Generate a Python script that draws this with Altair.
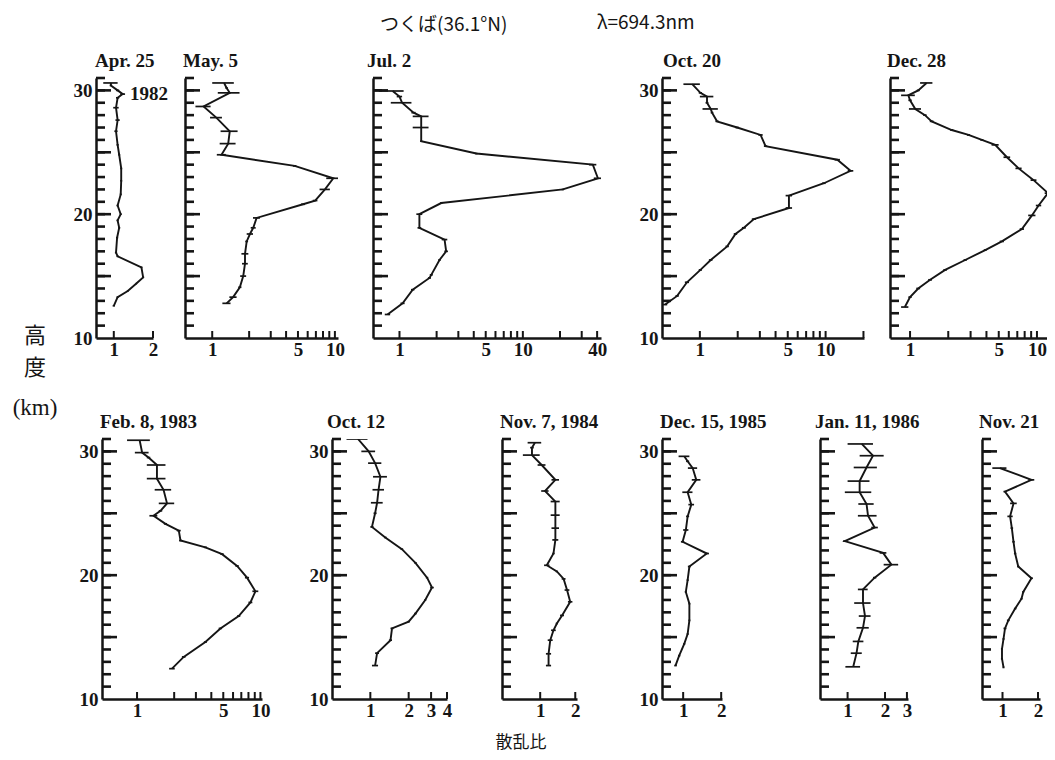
import altair as alt
import pandas as pd

# ---------------- data: altitude (km), scattering ratio, error half-width ----------------
apr25_km = [30.6, 30.4, 30.0, 29.7, 29.4, 28.6, 27.6, 26.7, 25.6, 24.8, 23.7, 22.7, 21.6,
            20.7, 20.0, 19.5, 18.9, 18.1, 16.9, 16.6, 15.7, 14.9, 14.4, 13.8, 13.3, 12.6]
apr25_sr = [0.95, 0.95, 1.07, 1.17, 1.07, 1.04, 1.07, 1.04, 1.07, 1.10, 1.14, 1.14, 1.13,
            1.07, 1.13, 1.07, 1.10, 1.06, 1.04, 1.07, 1.63, 1.68, 1.49, 1.28, 1.07, 1.00]
apr25_er = [0.12, 0.02, 0.03, 0.05, 0.03, 0.05, 0.04, 0.03, 0.02, 0.02, 0.02, 0.02, 0.02,
            0.02, 0.02, 0.02, 0.02, 0.02, 0.02, 0.02, 0.03, 0.03, 0.02, 0.02, 0.02, 0.02]

may5_km = [30.6, 30.2, 29.8, 28.7, 27.8, 26.7, 25.7, 24.8, 23.9, 22.9, 22.0, 21.1, 20.8,
           19.7, 18.9, 18.4, 17.8, 16.8, 16.0, 15.0, 14.1, 13.3, 12.8]
may5_sr = [1.25, 1.31, 1.39, 0.85, 1.08, 1.39, 1.35, 1.19, 4.7, 9.7, 8.3, 6.9, 5.5,
           2.30, 2.16, 2.03, 1.91, 1.85, 1.85, 1.79, 1.68, 1.48, 1.31]
may5_er = [0.25, 0.03, 0.28, 0.12, 0.12, 0.22, 0.20, 0.10, 0.15, 1.2, 0.8, 0.3, 0.2,
           0.15, 0.10, 0.12, 0.05, 0.12, 0.10, 0.10, 0.05, 0.10, 0.10]

jul2_km = [29.95, 29.5, 29.0, 28.2, 27.9, 27.0, 25.9, 24.9, 24.0, 22.9, 22.0, 20.9, 20.0,
           18.9, 17.95, 17.0, 16.3, 15.1, 14.85, 13.9, 12.8, 11.9]
jul2_sr = [0.88, 1.0, 1.05, 1.30, 1.50, 1.50, 1.50, 4.2, 36.9, 40.6, 21.1, 2.18, 1.45,
           1.45, 2.32, 2.39, 2.11, 1.81, 1.75, 1.28, 1.06, 0.80]
jul2_er = [0.20, 0.05, 0.20, 0.05, 0.22, 0.22, 0.03, 0.10, 2.5, 3.0, 0.5, 0.05, 0.08,
           0.05, 0.12, 0.08, 0.05, 0.05, 0.05, 0.04, 0.04, 0.04]

oct20_km = [30.5, 29.8, 29.5, 29.0, 28.5, 28.2, 27.5, 27.0, 26.4, 25.5, 24.4, 23.5, 22.5,
            21.5, 20.5, 19.6, 18.9, 18.4, 17.4, 16.3, 15.5, 14.5, 13.4, 12.7]
oct20_sr = [0.87, 1.01, 1.14, 1.14, 1.22, 1.25, 1.37, 1.98, 3.04, 3.33, 12.4, 15.8, 9.7,
            5.11, 5.11, 2.69, 2.24, 1.92, 1.65, 1.22, 1.01, 0.79, 0.66, 0.53]
oct20_er = [0.13, 0.03, 0.14, 0.03, 0.17, 0.03, 0.04, 0.06, 0.12, 0.10, 0.6, 0.8, 0.3,
            0.3, 0.3, 0.10, 0.08, 0.06, 0.05, 0.04, 0.03, 0.03, 0.02, 0.02]

dec28_km = [30.6, 30.0, 29.6, 29.2, 28.5, 28.0, 27.5, 26.8, 26.4, 26.0, 25.6, 24.6, 23.7,
            22.75, 21.7, 20.7, 19.9, 18.8, 17.8, 17.1, 16.3, 15.5, 14.7, 14.0, 13.3, 12.5]
dec28_sr = [1.35, 1.16, 0.97, 1.00, 1.10, 1.31, 1.48, 2.13, 2.89, 3.68, 4.69, 5.80, 7.17,
            9.41, 12.2, 10.3, 9.13, 7.61, 5.29, 3.91, 2.72, 1.89, 1.44, 1.16, 1.00, 0.91]
dec28_er = [0.15, 0.03, 0.12, 0.03, 0.12, 0.04, 0.05, 0.06, 0.08, 0.10, 0.30, 0.35, 0.40,
            0.5, 0.7, 0.5, 0.6, 0.3, 0.2, 0.1, 0.08, 0.06, 0.05, 0.04, 0.03, 0.06]

feb8_km = [30.9, 29.9, 29.5, 28.9, 27.8, 26.9, 25.8, 25.2, 24.8, 24.15, 23.6, 22.8, 22.25,
           21.7, 20.75, 19.8, 18.7, 17.8, 16.7, 15.7, 14.6, 13.4, 12.45]
feb8_sr = [1.05, 1.10, 1.24, 1.45, 1.45, 1.64, 1.75, 1.55, 1.36, 1.70, 2.18, 2.25, 3.58,
           4.89, 6.47, 7.79, 9.11, 8.30, 6.67, 4.74, 3.58, 2.39, 1.92]
feb8_er = [0.22, 0.14, 0.04, 0.25, 0.25, 0.25, 0.25, 0.05, 0.10, 0.05, 0.08, 0.06, 0.10,
           0.15, 0.2, 0.3, 0.5, 0.3, 0.2, 0.15, 0.1, 0.08, 0.10]

oct12_km = [31.0, 30.0, 29.05, 27.95, 26.9, 25.85, 25.0, 23.9, 23.05, 22.1, 21.0, 19.8,
            19.0, 18.0, 16.9, 16.25, 15.7, 14.75, 13.7, 12.7]
oct12_sr = [0.80, 0.97, 1.09, 1.20, 1.16, 1.13, 1.09, 1.03, 1.31, 1.77, 2.26, 2.79,
            3.05, 2.70, 2.26, 2.00, 1.48, 1.44, 1.13, 1.09]
oct12_er = [0.15, 0.12, 0.13, 0.15, 0.12, 0.12, 0.03, 0.03, 0.03, 0.04, 0.05, 0.06,
            0.10, 0.05, 0.05, 0.04, 0.04, 0.04, 0.04, 0.06]

nov7_km = [30.7, 30.3, 29.7, 28.9, 27.7, 26.8, 25.95, 24.85, 23.8, 22.85, 21.75, 20.8,
           20.3, 19.7, 18.8, 17.85, 16.75, 16.1, 15.55, 14.75, 13.65, 12.7]
nov7_sr = [0.90, 0.85, 0.85, 1.03, 1.35, 1.10, 1.35, 1.35, 1.35, 1.35, 1.30, 1.14,
           1.39, 1.59, 1.70, 1.81, 1.54, 1.39, 1.30, 1.22, 1.18, 1.18]
nov7_er = [0.12, 0.03, 0.14, 0.08, 0.10, 0.08, 0.12, 0.12, 0.10, 0.08, 0.03, 0.06,
           0.03, 0.06, 0.08, 0.08, 0.06, 0.03, 0.06, 0.06, 0.06, 0.06]

dec15_km = [29.6, 29.2, 28.65, 27.7, 26.7, 25.7, 24.75, 23.65, 22.7, 21.75, 20.7, 19.6,
            18.65, 17.7, 16.35, 15.25, 14.45, 13.5, 12.7]
dec15_sr = [1.02, 1.085, 1.19, 1.27, 1.085, 1.16, 1.085, 1.05, 0.99, 1.54, 1.12, 1.085,
            1.05, 1.12, 1.12, 1.085, 1.02, 0.93, 0.87]
dec15_er = [0.10, 0.03, 0.10, 0.10, 0.10, 0.06, 0.03, 0.05, 0.03, 0.06, 0.03, 0.02,
            0.02, 0.02, 0.02, 0.02, 0.02, 0.02, 0.02]

jan11_km = [30.6, 29.65, 28.7, 27.6, 26.7, 25.75, 24.8, 23.85, 22.75, 21.8, 20.85, 19.8,
            18.85, 17.75, 16.7, 15.75, 14.65, 13.7, 12.6]
jan11_sr = [1.30, 1.60, 1.42, 1.25, 1.25, 1.42, 1.46, 1.65, 0.95, 1.93, 2.25, 1.65,
            1.33, 1.33, 1.38, 1.33, 1.22, 1.18, 1.11]
jan11_er = [0.30, 0.35, 0.30, 0.25, 0.30, 0.20, 0.25, 0.10, 0.03, 0.12, 0.30, 0.05,
            0.12, 0.20, 0.15, 0.15, 0.12, 0.12, 0.15]

nov21_km = [28.65, 27.7, 26.75, 25.8, 24.75, 23.8, 22.7, 21.75, 20.7, 19.75, 18.65, 18.1,
            17.3, 16.35, 15.7, 14.85, 14.05, 13.25, 12.55]
nov21_sr = [0.95, 1.76, 1.05, 1.24, 1.16, 1.20, 1.24, 1.28, 1.36, 1.76, 1.50, 1.45,
            1.28, 1.12, 1.05, 1.02, 0.99, 0.99, 1.02]
nov21_er = [0.13, 0.10, 0.03, 0.08, 0.06, 0.03, 0.03, 0.03, 0.03, 0.05, 0.03, 0.03,
            0.03, 0.03, 0.03, 0.02, 0.02, 0.02, 0.02]

# ---------------- text ----------------
panel_titles = ["Apr. 25", "May. 5", "Jul. 2", "Oct. 20", "Dec. 28",
                "Feb. 8, 1983", "Oct. 12", "Nov. 7, 1984", "Dec. 15, 1985", "Jan. 11, 1986", "Nov. 21"]
year_note = ["1982"]
header_texts = ["つくば(36.1°N)", "λ=694.3nm"]
y_title_kanji = ["高\n度"]
y_title_unit = ["(km)"]
x_title = ["散乱比"]

# axis label values / tick values
y_label_values = [10, 20, 30]
y_all_ticks = [11, 12, 13, 14, 15, 16, 17, 18, 19, 20, 21, 22, 23, 24, 25, 26, 27, 28, 29, 30, 31]
y_major_ticks = [15, 20, 25, 30]
dec = [1, 2, 3, 4, 5, 6, 7, 8, 9, 10]

# ---------------- style ----------------
INK = "#151515"
SERIF = "Liberation Serif"
CJK = "Noto Sans CJK JP"
H = 260
Y_DOMAIN = [10, 31]
ROW_GAP = 101


def text_layer(txt, x, y, font=SERIF, size=19, align="left", dx=0, weight="bold",
               baseline="middle", **kw):
    return alt.Chart(pd.DataFrame({"t": [txt]})).mark_text(
        align=align, baseline=baseline, font=font, fontSize=size, color=INK, dx=dx,
        fontWeight=weight, **kw
    ).encode(text="t:N", x=alt.value(x), y=alt.value(y))


def panel(title, km, sr, er, domain, width, xlabels, xticks, ylabels, tdx, extras=()):
    df = pd.DataFrame({"km": km, "sr": sr, "er": er})
    df["lo"] = df["sr"] - df["er"]
    df["hi"] = df["sr"] + df["er"]
    xs = alt.Scale(type="log", domain=domain, nice=False)
    ys = alt.Scale(domain=Y_DOMAIN, nice=False, zero=False)
    xa = alt.Axis(values=xlabels, format="d", ticks=False, grid=False, title=None,
                  domainColor=INK, domainWidth=2.5, labelFont=SERIF, labelFontSize=19,
                  labelFontWeight="bold", labelColor=INK, labelPadding=2,
                  labelFlush=False, labelOverlap=False)
    ya = alt.Axis(values=y_label_values, labels=ylabels, ticks=False, grid=False, title=None,
                  domainColor=INK, domainWidth=2.5, labelFont=SERIF, labelFontSize=19,
                  labelFontWeight="bold", labelColor=INK, labelPadding=4,
                  labelFlush=False, labelOverlap=False)

    def X(f):
        return alt.X(f + ":Q", scale=xs, axis=xa)

    def Y(f):
        return alt.Y(f + ":Q", scale=ys, axis=ya)

    base = alt.Chart(df)
    bars = base.mark_rule(color=INK, strokeWidth=1.7, clip=True).encode(
        x=X("lo"), x2="hi:Q", y=Y("km"))
    line = base.mark_line(color=INK, strokeWidth=1.9, clip=True).encode(
        x=X("sr"), y=Y("km"), order="km:Q")
    yt_all = alt.Chart(pd.DataFrame({"tick": y_all_ticks})).mark_rule(
        color=INK, strokeWidth=2.6).encode(y=Y("tick"), x=alt.value(0), x2=alt.value(9))
    yt_major = alt.Chart(pd.DataFrame({"major": y_major_ticks})).mark_rule(
        color=INK, strokeWidth=2.6).encode(y=Y("major"), x=alt.value(0), x2=alt.value(15))
    xt = alt.Chart(pd.DataFrame({"xtick": xticks})).mark_rule(color=INK, strokeWidth=2).encode(
        x=X("xtick"), y=alt.value(H), y2=alt.value(H - 7))
    ttl = text_layer(title, 0, -17, dx=tdx)
    return alt.layer(bars, line, yt_all, yt_major, xt, ttl, *extras).properties(width=width, height=H)


def spacer(w, extras=()):
    base = alt.Chart(pd.DataFrame({"s": [""]})).mark_text().encode(text="s:N")
    return alt.layer(base, *extras).properties(width=w, height=H)


top = alt.hconcat(
    spacer(88, [
        text_layer(y_title_kanji[0], 27, 248, font=CJK, size=22, align="center", weight="normal",
                   baseline="top", lineBreak="\n", lineHeight=32),
        text_layer(y_title_unit[0], 27, 330, size=23, align="center", weight="normal"),
    ]),
    panel(panel_titles[0], apr25_km, apr25_sr, apr25_er, [0.73, 2.0], 57, [1, 2], [1, 2], True, -1,
          extras=[text_layer(year_note[0], 34, 16)]),
    spacer(32),
    panel(panel_titles[1], may5_km, may5_sr, may5_er, [0.6, 10.6], 153, [1, 5, 10], dec, False, -2),
    spacer(35),
    panel(panel_titles[2], jul2_km, jul2_sr, jul2_er, [0.61, 43], 228, [1, 5, 10, 40],
          dec + [20, 30, 40], False, -6,
          extras=[text_layer(header_texts[0], 7, -53, font=CJK, size=19, weight="normal"),
                  text_layer(header_texts[1], 224, -55, font=CJK, size=19, weight="normal")]),
    spacer(61),
    panel(panel_titles[3], oct20_km, oct20_sr, oct20_er, [0.5, 20.2], 202, [1, 5, 10], dec + [20], True, 1),
    spacer(26),
    panel(panel_titles[4], dec28_km, dec28_sr, dec28_er, [0.695, 12.0], 157, [1, 5, 10], dec, False, -3),
    spacing=0, bounds="flush",
)

bottom = alt.hconcat(
    spacer(94),
    panel(panel_titles[5], feb8_km, feb8_sr, feb8_er, [0.52, 10.3], 160, [1, 5, 10], dec, True, -2),
    spacer(70),
    panel(panel_titles[6], oct12_km, oct12_sr, oct12_er, [0.5, 4.0], 115, [1, 2, 3, 4], [1, 2, 3, 4], True, -5),
    spacer(55),
    panel(panel_titles[7], nov7_km, nov7_sr, nov7_er, [0.47, 2.07], 75, [1, 2], [1, 2], False, -2,
          extras=[text_layer(x_title[0], 19, 304, font=CJK, size=17, align="center", weight="normal")]),
    spacer(85),
    panel(panel_titles[8], dec15_km, dec15_sr, dec15_er, [0.68, 2.03], 60, [1, 2], [1, 2], True, -2),
    spacer(98),
    panel(panel_titles[9], jan11_km, jan11_sr, jan11_er, [0.6, 3.06], 88, [1, 2, 3], [1, 2, 3], False, -5),
    spacer(74),
    panel(panel_titles[10], nov21_km, nov21_sr, nov21_er, [0.67, 2.08], 58, [1, 2], [1, 2], False, -3),
    spacing=0, bounds="flush",
)

chart = alt.vconcat(top, bottom, spacing=H + ROW_GAP, bounds="flush").properties(
    padding={"left": 0, "right": 0, "top": 6, "bottom": 6},
    background="white",
).configure_view(stroke=None)

chart.save("out.html", embed_options={"renderer": "svg", "actions": False})
